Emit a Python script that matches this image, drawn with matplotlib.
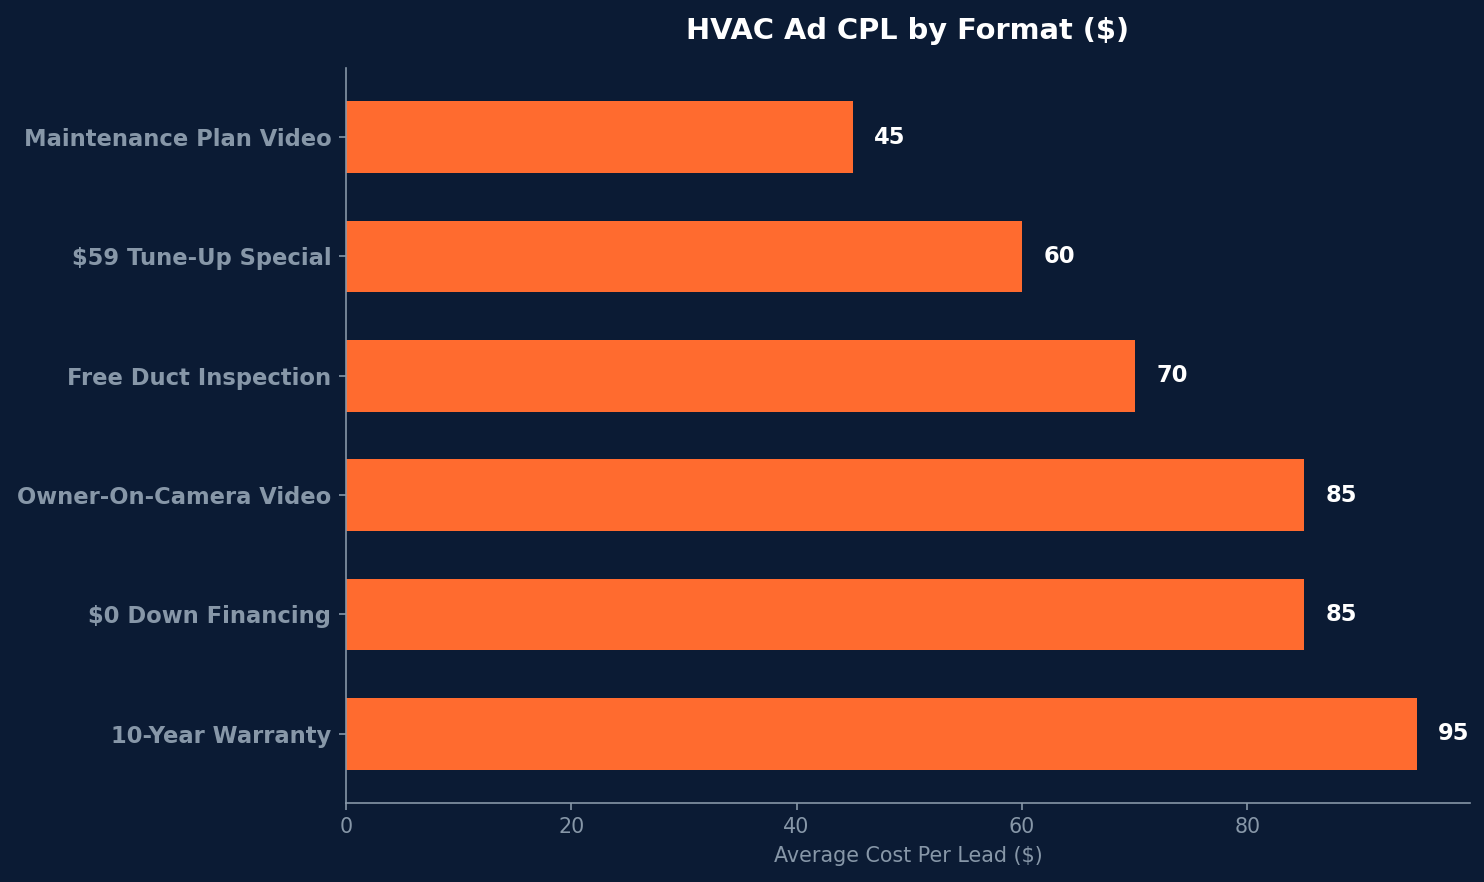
import matplotlib
matplotlib.use("Agg")
import matplotlib.pyplot as plt

# data (bottom to top)
formats = ["10-Year Warranty", "$0 Down Financing", "Owner-On-Camera Video",
           "Free Duct Inspection", "$59 Tune-Up Special", "Maintenance Plan Video"]
cpl = [95, 85, 85, 70, 60, 45]

BG = "#0b1b34"
BAR = "#ff6b2f"
MUTED = "#8797a8"

fig, ax = plt.subplots(figsize=(10, 5.9434), dpi=148.4)
fig.patch.set_facecolor(BG)
ax.set_facecolor(BG)
fig.subplots_adjust(left=0.233, right=0.9906, bottom=0.0896, top=0.923)

ax.barh(formats, cpl, height=0.6, color=BAR)
for i, v in enumerate(cpl):
    ax.text(v + 1.9, i, f"{v}", va="center", ha="left", color="white",
            fontsize=11, fontweight="bold")

ax.set_xlim(0, max(cpl) * 1.05)
ax.set_title("HVAC Ad CPL by Format ($)", color="white", fontsize=14,
             fontweight="bold", pad=14)
ax.set_xlabel("Average Cost Per Lead ($)", color=MUTED, fontsize=10)

for s in ["top", "right"]:
    ax.spines[s].set_visible(False)
for s in ["left", "bottom"]:
    ax.spines[s].set_color(MUTED)

ax.tick_params(axis="x", colors=MUTED, labelsize=10)
ax.tick_params(axis="y", colors=MUTED, labelsize=11)
for lbl in ax.get_yticklabels():
    lbl.set_fontweight("bold")

fig.savefig("out.png", facecolor=BG)
